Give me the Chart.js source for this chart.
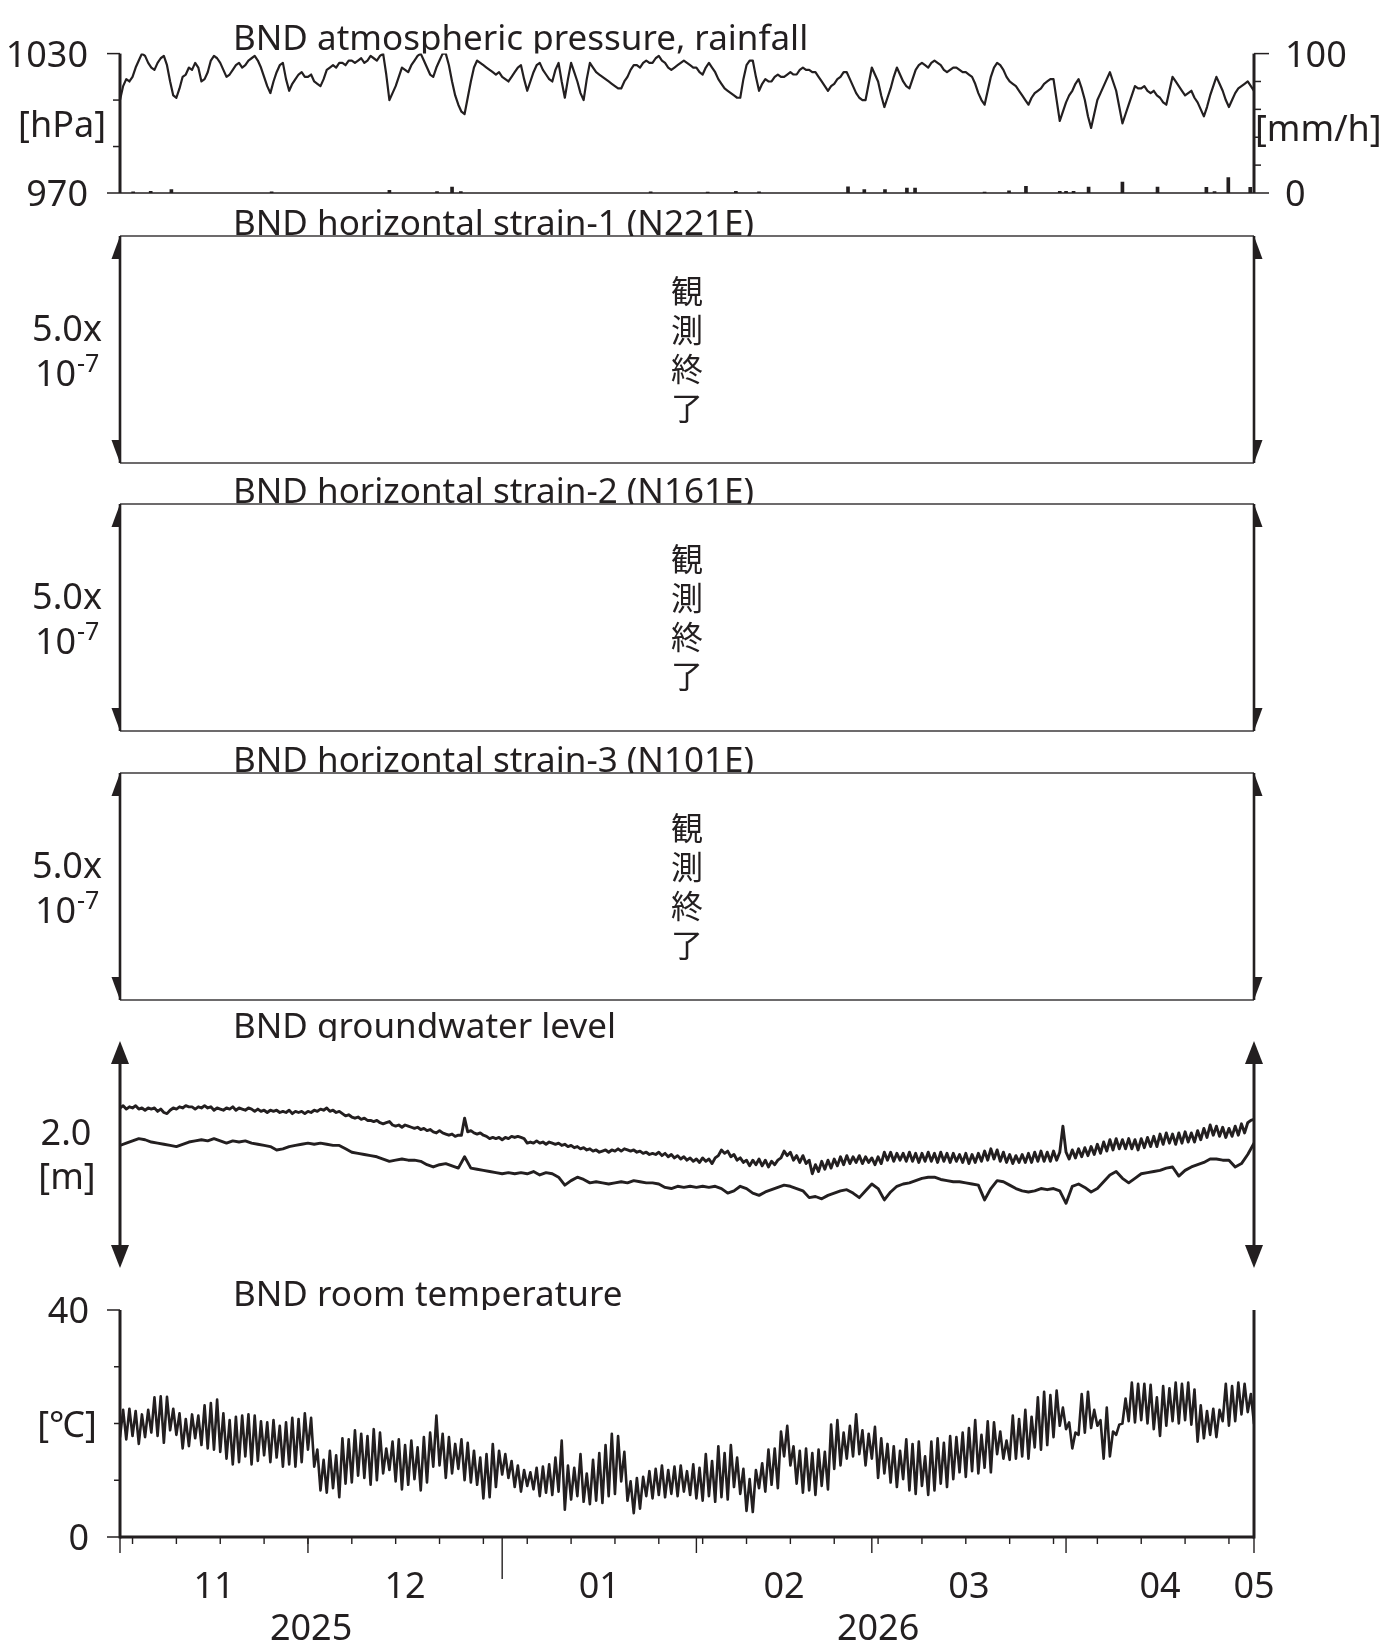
<!DOCTYPE html>
<html><head><meta charset="utf-8">
<script src="https://cdn.jsdelivr.net/npm/chart.js@4.4.1/dist/chart.umd.min.js"></script>
<style>
html,body{margin:0;padding:0;background:#fff;}
#wrap{position:relative;width:1394px;height:1645px;background:#fff;}
canvas{position:absolute;left:0;top:0;}
</style></head><body><div id="wrap">
<canvas id="c1" width="1394" height="1645"></canvas>
<canvas id="c2" width="1394" height="1645"></canvas>
<canvas id="c3" width="1394" height="1645"></canvas>
<canvas id="c4" width="1394" height="1645"></canvas>
<canvas id="c5" width="1394" height="1645"></canvas>
<canvas id="c6" width="1394" height="1645"></canvas>
</div>
<script>
// ---------------- DATA (days since 2025-11-01) ----------------
const panelTitles = ['BND atmospheric pressure, rainfall','BND horizontal strain-1 (N221E)','BND horizontal strain-2 (N161E)','BND horizontal strain-3 (N101E)','BND groundwater level','BND room temperature'];
const monthLabels = ['11','12','01','02','03','04','05'];
const monthMid = [15,45.5,76.5,106,135.5,166,181];
const monthStarts = [0,30,61,92,120,151,181];
const yearLabels = ['2025','2026'];
const yearMid = [30.5,121];
const yearBoundary = 61;

// atmospheric pressure [hPa], half-day steps, day 0..181
const pressure = [
1010,1016,1019,1018,1020,1024,1027,1030,1029,1026,
1024,1023,1026,1028,1029,1025,1018,1012,1011,1015,
1020,1021,1024,1023,1026,1024,1018,1019,1022,1027,
1029,1028,1026,1023,1020,1021,1023,1025,1026,1024,
1025,1027,1028,1029,1027,1024,1020,1016,1013,1018,
1022,1025,1026,1019,1014,1017,1019,1021,1022,1020,
1020,1021,1018,1017,1016,1019,1023,1024,1025,1024,
1026,1026,1025,1027,1027,1026,1027,1028,1026,1027,
1029,1028,1027,1029,1030,1021,1010,1013,1016,1020,
1024,1023,1022,1025,1027,1029,1030,1027,1024,1021,
1020,1024,1027,1030,1030,1025,1018,1012,1008,1005,
1004,1011,1018,1024,1027,1026,1025,1024,1023,1022,
1021,1022,1020,1019,1018,1020,1022,1024,1025,1019,
1014,1018,1022,1025,1026,1023,1021,1019,1018,1023,
1026,1018,1011,1019,1026,1022,1018,1013,1010,1019,
1026,1024,1022,1021,1020,1019,1018,1017,1016,1015,
1015,1018,1020,1023,1025,1025,1024,1026,1027,1026,
1026,1028,1029,1027,1026,1024,1023,1024,1025,1026,
1027,1026,1025,1024,1024,1022,1021,1024,1026,1024,
1022,1019,1017,1015,1014,1013,1012,1011,1011,1019,
1025,1027,1027,1020,1014,1017,1019,1018,1018,1020,
1021,1020,1020,1021,1022,1021,1021,1023,1024,1023,
1023,1022,1022,1020,1018,1016,1014,1016,1017,1019,
1020,1022,1022,1019,1016,1013,1011,1010,1010,1017,
1024,1021,1018,1012,1007,1011,1015,1020,1024,1021,
1018,1016,1015,1019,1023,1025,1026,1025,1024,1026,
1027,1026,1025,1023,1022,1023,1024,1024,1023,1022,
1022,1021,1020,1017,1013,1010,1008,1014,1020,1024,
1026,1025,1023,1020,1018,1017,1016,1014,1012,1010,
1008,1011,1013,1014,1015,1017,1018,1019,1019,1010,
1001,1005,1009,1012,1014,1017,1019,1015,1010,1003,
998,1004,1010,1013,1016,1019,1022,1018,1014,1007,
1000,1004,1008,1012,1016,1015,1015,1016,1014,1013,
1014,1012,1011,1009,1008,1014,1020,1018,1016,1014,
1012,1013,1014,1011,1009,1006,1003,1007,1012,1016,
1020,1017,1014,1010,1007,1010,1013,1015,1016,1017,
1018,1016,1014];

// rainfall [mm/h]
const rainDays = [2.1,4.9,8.2,24.2,43,50.6,53,54.4,84.7,93.8,98.3,102,116.2,118.8,122.1,125.6,126.9,138,141.9,144.6,150,151,152.2,154.6,160,165.6,173.4,174.7,176.9,180.4];
const rainVals = [0.8,1.2,2.5,0.8,2,1,4.2,1,0.8,0.6,1.2,0.8,4.4,2.4,2.5,3.5,3.5,0.6,1.5,4.8,1.2,1.2,1.2,4.2,7.8,4.2,4,1,11,4];

// groundwater level, upper trace [m, relative], half-day steps
const gwUpper = [
1.41,1.43,1.40,1.42,1.41,1.43,1.40,1.41,1.39,1.41,
1.40,1.41,1.38,1.40,1.37,1.36,1.39,1.41,1.40,1.42,
1.41,1.43,1.42,1.42,1.40,1.42,1.41,1.43,1.41,1.42,
1.39,1.41,1.40,1.39,1.41,1.40,1.42,1.39,1.41,1.40,
1.39,1.41,1.40,1.38,1.40,1.38,1.39,1.37,1.39,1.38,
1.39,1.37,1.38,1.37,1.39,1.36,1.38,1.37,1.38,1.36,
1.38,1.37,1.39,1.38,1.40,1.39,1.41,1.38,1.39,1.37,
1.38,1.36,1.34,1.35,1.33,1.32,1.33,1.31,1.32,1.30,
1.30,1.29,1.30,1.28,1.27,1.28,1.29,1.26,1.25,1.26,
1.24,1.26,1.25,1.24,1.23,1.24,1.22,1.23,1.21,1.22,
1.20,1.19,1.21,1.19,1.18,1.17,1.18,1.16,1.17,1.17,
1.32,1.20,1.21,1.19,1.18,1.19,1.17,1.16,1.14,1.15,
1.14,1.15,1.13,1.15,1.14,1.16,1.15,1.16,1.15,1.14,
1.10,1.11,1.10,1.12,1.10,1.11,1.09,1.11,1.10,1.09,
1.10,1.08,1.09,1.07,1.08,1.06,1.07,1.05,1.06,1.04,
1.05,1.03,1.04,1.02,1.03,1.04,1.02,1.04,1.03,1.05,
1.03,1.05,1.04,1.03,1.04,1.02,1.03,1.01,1.02,1.00,
1.01,1.00,1.02,0.99,1.01,0.98,1.00,0.97,0.99,0.96,
0.98,0.95,0.97,0.94,0.96,0.93,0.97,0.94,0.96,0.92,
0.97,0.99,1.04,1.01,1.03,0.98,1.00,0.95,0.97,0.93,
0.95,0.90,0.95,0.91,0.96,0.90,0.95,0.89,0.94,0.91,
0.95,0.97,1.03,0.99,1.02,0.95,0.99,0.93,0.99,0.92,
0.95,0.83,0.91,0.85,0.94,0.87,0.95,0.88,0.96,0.90,
0.98,0.91,0.99,0.92,0.98,0.93,0.99,0.92,0.98,0.93,
0.97,0.91,0.98,0.92,1.02,0.95,1.02,0.94,1.01,0.95,
1.01,0.94,1.02,0.94,1.01,0.93,1.01,0.94,1.02,0.94,
1.01,0.93,1.02,0.94,1.01,0.93,1.01,0.94,1.00,0.93,
1.01,0.92,1.00,0.93,1.01,0.94,1.03,0.95,1.05,0.96,
1.04,0.94,1.02,0.93,1.00,0.92,0.99,0.93,1.00,0.93,
1.01,0.93,1.02,0.94,1.03,0.94,1.02,0.94,1.03,0.95,
1.02,1.25,1.02,0.96,1.04,0.97,1.05,0.98,1.06,0.99,
1.07,1.00,1.09,1.01,1.11,1.03,1.13,1.04,1.14,1.05,
1.13,1.05,1.14,1.05,1.13,1.04,1.14,1.06,1.15,1.07,
1.16,1.07,1.18,1.09,1.19,1.10,1.18,1.09,1.19,1.10,
1.20,1.11,1.19,1.11,1.21,1.13,1.23,1.15,1.26,1.17,
1.25,1.16,1.24,1.15,1.23,1.16,1.25,1.17,1.27,1.19,
1.28,1.30,1.31];

// groundwater level, lower trace [m, relative], daily
const gwLower = [
1.08,1.10,1.12,1.14,1.13,1.11,1.10,1.09,1.08,1.07,
1.09,1.11,1.12,1.13,1.12,1.14,1.12,1.10,1.12,1.11,
1.12,1.10,1.09,1.08,1.07,1.04,1.05,1.07,1.08,1.09,
1.10,1.09,1.10,1.09,1.08,1.08,1.05,1.02,1.01,1.00,
0.99,0.98,0.96,0.94,0.95,0.96,0.95,0.95,0.94,0.91,
0.89,0.91,0.92,0.90,0.88,0.98,0.88,0.87,0.86,0.85,
0.84,0.83,0.84,0.83,0.84,0.83,0.85,0.82,0.84,0.83,
0.80,0.73,0.77,0.80,0.78,0.75,0.76,0.75,0.74,0.75,
0.76,0.75,0.77,0.76,0.75,0.75,0.74,0.71,0.70,0.72,
0.71,0.72,0.71,0.72,0.71,0.72,0.70,0.66,0.68,0.72,
0.70,0.66,0.64,0.67,0.69,0.71,0.73,0.72,0.70,0.68,
0.62,0.63,0.61,0.64,0.66,0.68,0.69,0.66,0.62,0.68,
0.74,0.70,0.60,0.67,0.72,0.74,0.75,0.77,0.79,0.80,
0.80,0.78,0.77,0.76,0.76,0.75,0.74,0.73,0.60,0.70,
0.77,0.76,0.73,0.70,0.68,0.67,0.68,0.70,0.69,0.70,
0.68,0.57,0.72,0.74,0.71,0.67,0.70,0.76,0.82,0.85,
0.79,0.75,0.79,0.83,0.84,0.85,0.86,0.88,0.89,0.81,
0.86,0.89,0.91,0.93,0.96,0.96,0.95,0.95,0.89,0.92,
1.00,1.10];

// room temperature [degC], daily minimum and maximum, day 0..180, and final value
const tempMin = [
17.6,17.2,17.8,16.4,17.6,18.4,17.8,16.6,18.8,18.0,
15.6,16.0,17.4,16.2,15.6,15.4,15.0,13.8,12.8,13.2,
14.2,12.8,13.4,14.4,13.2,14.0,12.4,12.8,12.4,13.2,
15.4,12.4,8.2,7.8,8.6,7.0,9.4,9.6,10.8,10.4,
9.2,10.0,11.2,11.8,9.8,8.4,9.2,10.2,8.2,9.6,
12.4,12.6,10.4,11.2,12.0,10.0,9.6,9.2,6.8,7.0,
8.8,11.0,10.4,8.8,8.0,9.0,8.4,7.2,7.8,7.4,
8.0,4.8,6.6,7.2,6.2,5.8,6.4,6.0,7.2,7.6,
9.8,6.4,4.2,5.0,7.2,6.8,7.4,7.0,7.6,7.2,
8.0,7.4,6.8,6.4,7.2,6.2,7.0,6.6,8.8,7.6,
4.6,4.4,8.6,8.0,9.2,8.6,14.2,12.6,9.4,7.8,
8.2,7.4,9.0,8.4,12.0,12.6,13.8,14.2,14.6,12.6,
13.8,10.4,11.2,9.6,8.8,10.2,8.2,7.6,9.0,7.4,
8.2,9.4,8.8,10.2,11.4,10.6,11.6,11.2,12.2,11.4,
14.6,13.8,13.6,13.8,14.2,13.8,15.8,15.4,16.2,17.6,
19.6,19.0,15.6,18.0,18.4,19.2,19.6,13.8,14.2,18.0,
20.0,20.4,20.2,20.6,20.0,19.0,17.8,19.6,20.4,20.0,
20.6,19.8,16.8,17.4,18.0,17.6,20.4,19.6,20.4,21.6,
22.0];
const tempMax = [
22.4,22.6,22.2,21.6,22.4,24.6,24.8,24.7,22.6,21.8,
20.8,21.6,21.4,23.2,23.6,24.2,21.8,20.6,21.2,21.4,
21.6,21.4,20.4,20.2,20.6,19.6,20.2,21.0,20.8,21.8,
21.0,15.4,13.6,15.2,14.4,17.4,17.2,18.8,18.2,17.8,
19.0,18.4,15.6,16.8,17.2,16.2,17.0,15.8,17.6,18.4,
21.4,18.2,17.6,16.4,17.2,16.6,15.2,14.0,14.6,16.4,
15.2,14.6,13.4,12.6,11.8,11.4,12.2,12.4,12.8,14.0,
17.0,12.6,12.2,14.6,11.2,13.6,14.8,16.2,18.2,17.8,
15.0,9.8,10.4,10.6,11.6,12.0,12.6,11.8,12.4,12.6,
11.6,12.8,12.2,14.6,13.4,16.0,14.8,16.2,14.0,12.0,
10.2,11.8,13.0,15.4,15.6,18.6,19.6,16.0,15.2,15.6,
14.8,15.4,15.0,19.8,20.6,18.4,19.6,21.6,18.8,18.2,
19.4,17.4,16.4,16.0,15.2,17.2,16.4,16.8,14.2,16.8,
17.4,16.6,17.8,17.6,18.4,19.2,20.6,18.0,20.4,20.2,
18.6,17.0,21.4,20.8,22.4,21.2,24.6,25.6,25.0,25.8,
22.8,20.2,18.4,25.2,25.6,22.4,20.6,22.8,18.6,19.8,
24.4,27.2,27.0,27.0,26.8,24.6,26.6,26.2,27.2,27.0,
27.2,26.0,23.2,22.2,22.6,22.4,27.0,26.6,27.2,27.0,
25.2];
const tempEnd = 20.0;

// ---------------- BUILD ----------------
const INK = '#231f20';
const FONT = '"Noto Sans", "DejaVu Sans", sans-serif';
const CJK = '"Noto Sans CJK JP", "Noto Sans CJK SC", sans-serif';
const W = 1394, H = 1645, XL = 120, XR = 1254;

const pressurePts = pressure.map((v,i)=>({x:i/2,y:v}));
const rainPts = rainDays.map((d,i)=>({x:d,y:rainVals[i]}));
const gwUpperPts = gwUpper.map((v,i)=>({x:i/2,y:v}));
const gwLowerPts = gwLower.map((v,i)=>({x:i,y:v}));
const tempPts = [];
tempMin.forEach((v,i)=>{ tempPts.push({x:i,y:v}); tempPts.push({x:i+0.5,y:tempMax[i]}); });
tempPts.push({x:181,y:tempEnd});
const weekTicks = []; for (let d = 2; d < 181; d += 7) weekTicks.push(d);

function seg(ctx,x1,y1,x2,y2,w){ctx.beginPath();ctx.lineWidth=w;ctx.moveTo(x1,y1);ctx.lineTo(x2,y2);ctx.stroke();}
function tri(ctx,p){ctx.beginPath();ctx.moveTo(p[0][0],p[0][1]);ctx.lineTo(p[1][0],p[1][1]);ctx.lineTo(p[2][0],p[2][1]);ctx.closePath();ctx.fill();}
function txt(ctx,s,x,y,size,align,base,fam){ctx.font=size+'px '+(fam||FONT);ctx.textAlign=align;ctx.textBaseline=base;ctx.fillStyle=INK;ctx.fillText(s,x,y);}
function title(ctx,s,top,base){ctx.save();ctx.beginPath();ctx.rect(0,0,W,top);ctx.clip();txt(ctx,s,233,base,35,'left','alphabetic');ctx.restore();}

function lineDs(data, extra){return Object.assign({type:'line',data:data,borderColor:INK,borderWidth:2.4,pointRadius:0,tension:0,borderJoinStyle:'round',borderCapStyle:'round',fill:false},extra||{});}
const tickFont = {family:FONT,size:36};
function baseOptions(top,bottom,pad,scales){
  return {responsive:false,animation:false,events:[],
    layout:{padding:{top:top,bottom:H-bottom-(pad.xh||0),left:pad.left,right:pad.right}},
    plugins:{legend:{display:false},tooltip:{enabled:false},title:{display:false}},
    scales:scales};
}
const xHidden = {type:'linear',min:0,max:181,offset:false,display:false};

// ---- Panel 1: pressure + rain
const decor1 = {id:'decor1',afterDraw(chart){
  const {ctx,chartArea:a,scales:{y,y1}} = chart;
  ctx.save(); ctx.strokeStyle=INK; ctx.fillStyle=INK;
  seg(ctx,a.left,a.top,a.left,a.bottom,3);
  seg(ctx,a.right,a.top,a.right,a.bottom,3);
  seg(ctx,a.left,a.bottom,a.right,a.bottom,1.5);
  [1030,970].forEach(v=>{const p=y.getPixelForValue(v);seg(ctx,a.left-13,p,a.left,p,1.5);});
  [1010,990].forEach(v=>{const p=y.getPixelForValue(v);seg(ctx,a.left-7,p,a.left,p,1.5);});
  [100,0].forEach(v=>{const p=y1.getPixelForValue(v);seg(ctx,a.right,p,a.right+15,p,1.5);});
  [80,60,40,20].forEach(v=>{const p=y1.getPixelForValue(v);seg(ctx,a.right,p,a.right+7,p,1.5);});
  txt(ctx,'[hPa]',106,y.getPixelForValue(1000)+3,36,'right','middle');
  txt(ctx,'[mm/h]',a.right+1,y1.getPixelForValue(45),36,'left','middle');
  title(ctx,panelTitles[0],a.top,a.top-4);
  ctx.restore();
}};
new Chart(document.getElementById('c1'),{
  type:'line',
  data:{datasets:[
    lineDs(pressurePts,{yAxisID:'y',borderWidth:2.2}),
    {type:'bar',data:rainPts,yAxisID:'y1',backgroundColor:INK,barThickness:3,borderWidth:0}
  ]},
  options:baseOptions(43,193,{left:0,right:0},{
    x:xHidden,
    y:{type:'linear',position:'left',min:970,max:1030,afterFit:s=>{s.width=XL;},grid:{display:false,drawTicks:false},border:{display:false},
       ticks:{stepSize:60,padding:32,labelOffset:3,color:INK,font:tickFont,callback:v=>String(v)}},
    y1:{type:'linear',position:'right',min:0,max:100,afterFit:s=>{s.width=W-XR;},grid:{display:false,drawTicks:false},border:{display:false},
       ticks:{stepSize:100,padding:31,labelOffset:3,color:INK,font:tickFont,callback:v=>String(v)}}
  }),
  plugins:[decor1]
});

// ---- Panels 2-4: strain (observation ended)
function strainDecor(k){return {id:'strain'+k,afterDraw(chart){
  const {ctx,chartArea:a} = chart; const cx=(a.left+a.right)/2, cy=(a.top+a.bottom)/2;
  ctx.save(); ctx.fillStyle=INK;
  ctx.strokeStyle='#3c3a3b';
  seg(ctx,a.left,a.top,a.right,a.top,1.4);
  seg(ctx,a.left,a.bottom,a.right,a.bottom,1.4);
  ctx.strokeStyle=INK;
  seg(ctx,a.left,a.top,a.left,a.bottom,2.6);
  seg(ctx,a.right,a.top,a.right,a.bottom,2.6);
  tri(ctx,[[a.left,a.top],[a.left-8.5,a.top+23],[a.left,a.top+23]]);
  tri(ctx,[[a.left,a.bottom],[a.left-8.5,a.bottom-23],[a.left,a.bottom-23]]);
  tri(ctx,[[a.right,a.top],[a.right+8.5,a.top+23],[a.right,a.top+23]]);
  tri(ctx,[[a.right,a.bottom],[a.right+8.5,a.bottom-23],[a.right,a.bottom-23]]);
  txt(ctx,'5.0x',67,cy-19,36,'center','middle');
  txt(ctx,'10',35,cy+26,36,'left','middle');
  txt(ctx,'-7',77,cy+15,25,'left','middle');
  '観測終了'.split('').forEach((ch,i)=>txt(ctx,ch,cx,cy+(i-1.5)*38.8,32,'center','middle',CJK));
  title(ctx,panelTitles[k],a.top,a.top-1);
  ctx.restore();
}};}
const strainTops = [236,504,773];
strainTops.forEach((t,i)=>{
  new Chart(document.getElementById('c'+(i+2)),{
    type:'line',data:{datasets:[]},
    options:baseOptions(t,t+227,{left:XL,right:W-XR},{x:xHidden,y:{type:'linear',min:0,max:1,display:false}}),
    plugins:[strainDecor(i+1)]
  });
});

// ---- Panel 5: groundwater
const decor5 = {id:'decor5',afterDraw(chart){
  const {ctx,chartArea:a} = chart; const cy=(a.top+a.bottom)/2;
  ctx.save(); ctx.strokeStyle=INK; ctx.fillStyle=INK;
  [a.left,a.right].forEach(x=>{
    seg(ctx,x,a.top+10,x,a.bottom-10,3);
    tri(ctx,[[x,a.top],[x-9,a.top+23],[x+9,a.top+23]]);
    tri(ctx,[[x,a.bottom],[x-9,a.bottom-23],[x+9,a.bottom-23]]);
  });
  txt(ctx,'2.0',66,cy-20,36,'center','middle');
  txt(ctx,'[m]',67,cy+24,36,'center','middle');
  title(ctx,panelTitles[4],a.top,a.top-3);
  ctx.restore();
}};
new Chart(document.getElementById('c5'),{
  type:'line',
  data:{datasets:[lineDs(gwUpperPts,{borderWidth:2.9}),lineDs(gwLowerPts,{borderWidth:2.9})]},
  options:baseOptions(1041,1268,{left:XL,right:W-XR},{x:xHidden,y:{type:'linear',min:0,max:2,display:false}}),
  plugins:[decor5]
});

// ---- Panel 6: room temperature + time axis
const decor6 = {id:'decor6',afterDraw(chart){
  const {ctx,chartArea:a,scales:{x,y}} = chart;
  ctx.save(); ctx.strokeStyle=INK; ctx.fillStyle=INK;
  seg(ctx,a.left,a.top,a.left,a.bottom+1.5,3);
  seg(ctx,a.right,a.top,a.right,a.bottom+1.5,3);
  seg(ctx,a.left,a.bottom,a.right,a.bottom,3);
  [40,0].forEach(v=>{const p=y.getPixelForValue(v);seg(ctx,a.left-13,p,a.left,p,1.5);});
  [10,20,30].forEach(v=>{const p=y.getPixelForValue(v);seg(ctx,a.left-6,p,a.left,p,1.5);});
  weekTicks.forEach(d=>{const p=x.getPixelForValue(d);seg(ctx,p,a.bottom,p,a.bottom+7,1.4);});
  monthStarts.forEach(d=>{const p=x.getPixelForValue(d);const L=(d===yearBoundary)?42:16;seg(ctx,p,a.bottom,p,a.bottom+L,1.4);});
  txt(ctx,'[℃]',67,y.getPixelForValue(20)+3,36,'center','middle');
  yearLabels.forEach((s,i)=>txt(ctx,s,x.getPixelForValue(yearMid[i]),a.bottom+93,36,'center','middle'));
  title(ctx,panelTitles[5],a.top,a.top-4);
  ctx.restore();
}};
new Chart(document.getElementById('c6'),{
  type:'line',
  data:{datasets:[lineDs(tempPts,{borderWidth:2.6})]},
  options:baseOptions(1310,1537,{left:0,right:W-XR,xh:H-1537},{
    x:{type:'linear',min:0,max:181,offset:false,position:'bottom',afterFit:s=>{s.height=H-1537;},
       afterBuildTicks:s=>{s.ticks=monthMid.map(v=>({value:v}));},
       grid:{display:false,drawTicks:false},border:{display:false},
       ticks:{autoSkip:false,maxRotation:0,minRotation:0,padding:29,color:INK,font:tickFont,callback:(v,i)=>monthLabels[i]}},
    y:{type:'linear',position:'left',min:0,max:40,afterFit:s=>{s.width=XL;},grid:{display:false,drawTicks:false},border:{display:false},
       ticks:{stepSize:40,padding:31,labelOffset:3,color:INK,font:tickFont,callback:v=>String(v)}}
  }),
  plugins:[decor6]
});
</script>
</body></html>
